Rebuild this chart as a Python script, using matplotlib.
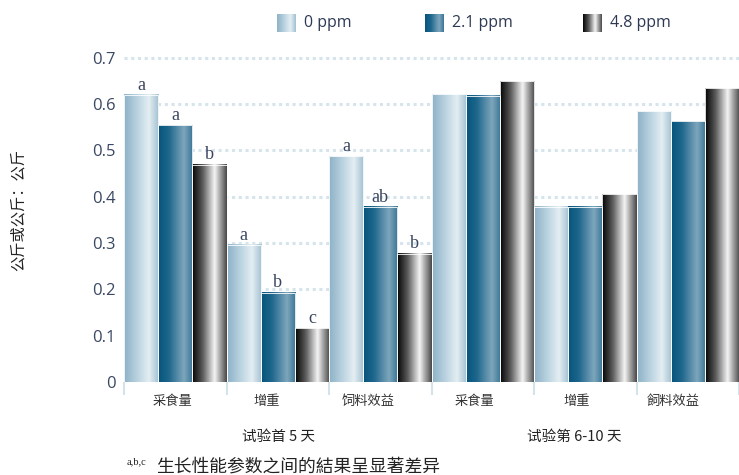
import numpy as np
import matplotlib
matplotlib.use("Agg")
import matplotlib.pyplot as plt
from matplotlib.colors import LinearSegmentedColormap

plt.rcParams['font.family'] = ['Noto Sans CJK SC', 'DejaVu Sans']

# data: two trial periods x three traits, three dose levels
metrics_1 = ['采食量', '增重', '饲料效益']
metrics_2 = ['采食量', '增重', '飼料效益']
periods = ['试验首 5 天', '试验第 6-10 天']
doses = ['0 ppm', '2.1 ppm', '4.8 ppm']

ppm_0 = [0.62, 0.296, 0.488, 0.621, 0.378, 0.585]
ppm_21 = [0.555, 0.193, 0.378, 0.618, 0.378, 0.563]
ppm_48 = [0.469, 0.116, 0.277, 0.650, 0.405, 0.634]

letters_0 = ['a', 'a', 'a', '', '', '']
letters_21 = ['a', 'b', 'ab', '', '', '']
letters_48 = ['b', 'c', 'b', '', '', '']

# left-to-right shading of each series (cylinder look)
grads = [
    LinearSegmentedColormap.from_list('g0', [(0, '#8db2c7'), (0.4, '#bcd4e1'), (0.72, '#e4eef3'), (1, '#a3c1d2')]),
    LinearSegmentedColormap.from_list('g1', [(0, '#07557c'), (0.3, '#1d668c'), (0.75, '#7ea6bc'), (1, '#3b7797')]),
    LinearSegmentedColormap.from_list('g2', [(0, '#050505'), (0.3, '#5a5a5a'), (0.65, '#f4f4f4'), (1, '#4a4a4a')]),
]
ramp = np.linspace(0, 1, 64).reshape(1, -1)

fig = plt.figure(figsize=(7.39, 4.75), dpi=100)
ax = fig.add_axes([124 / 739, 1 - 382 / 475, 1 - 124 / 739, (382 - 48.6) / 475])

series = [ppm_0, ppm_21, ppm_48]
letters = [letters_0, letters_21, letters_48]
n_groups = len(ppm_0)
for s, vals in enumerate(series):
    x = np.arange(n_groups) * 3 + s
    bars = ax.bar(x, vals, width=1.0, align='edge', color='none',
                  edgecolor='white', linewidth=0.6, zorder=4)
    for b, lab in zip(bars, letters[s]):
        x0, h, w = b.get_x(), b.get_height(), b.get_width()
        ax.imshow(ramp, cmap=grads[s], aspect='auto', zorder=3,
                  extent=(x0, x0 + w, 0, h), interpolation='bilinear')
        if lab:
            ax.text(x0 + w / 2, h + 0.003, lab, ha='center', va='bottom',
                    fontsize=13, family='Liberation Serif', color='#3a4560', zorder=5)

ax.set_xlim(0, 615 / 34.4)
ax.set_ylim(0, 0.72)

# dotted grid
for yv in np.arange(0.1, 0.71, 0.1):
    ax.axhline(yv, color='#d6e4ec', linestyle=(0, (1, 1.2)), linewidth=2.2, zorder=1)

for sp in ax.spines.values():
    sp.set_visible(False)

ax.set_yticks(np.arange(0, 0.71, 0.1))
ax.set_yticklabels(['0'] + ['%.1f' % v for v in np.arange(0.1, 0.71, 0.1)])
ax.tick_params(axis='y', length=0, pad=6, labelsize=12, labelcolor='#3b4863')
for t in ax.get_yticklabels():
    t.set_family(['Open Sans', 'DejaVu Sans'])

# category labels under each group, boundary ticks between groups
label_shift = [1.43, 1.19, 1.15, 1.26, 1.26, 1.08]
centers = np.arange(n_groups) * 3 + np.array(label_shift)
ax.set_xticks(centers)
ax.set_xticklabels(metrics_1 + metrics_2)
ax.set_xticks(np.arange(0, n_groups * 3 + 1, 3), minor=True)
ax.tick_params(axis='x', which='major', length=0, pad=9, labelsize=9.5, labelcolor='#333333')
ax.tick_params(axis='x', which='minor', length=9, width=1.5, color='#d3e3ec')

# period labels
fig.text(279 / 739, 1 - 437 / 475, periods[0], ha='center', va='center',
         fontsize=10.5, color='#222222')
fig.text(574 / 739, 1 - 437 / 475, periods[1], ha='center', va='center',
         fontsize=10.5, color='#222222')

# footnote
fig.text(127 / 739, 1 - 462 / 475, 'a,b,c', ha='left', va='center',
         fontsize=7.5, family='Liberation Serif', color='#222222')
fig.text(156 / 739, 1 - 467 / 475, '生长性能参数之间的結果呈显著差异', ha='left', va='center',
         fontsize=12.8, color='#222222')

# y axis title
fig.text(18 / 739, 1 - 210 / 475, '公斤或公斤：公斤', rotation=90, ha='center', va='center',
         fontsize=11, color='#222222')

# legend
leg_x = [277, 425, 583]
for s, lx in enumerate(leg_x):
    lax = fig.add_axes([lx / 739, 1 - 32 / 475, 19 / 739, 18 / 475])
    lax.imshow(ramp, cmap=grads[s], aspect='auto', interpolation='bilinear')
    lax.axis('off')
    fig.text((lx + 27) / 739, 1 - 23 / 475, doses[s], ha='left', va='center',
             fontsize=11.5, color='#2e3a55', family=['Open Sans', 'DejaVu Sans'])

fig.savefig('out.png', dpi=100)
